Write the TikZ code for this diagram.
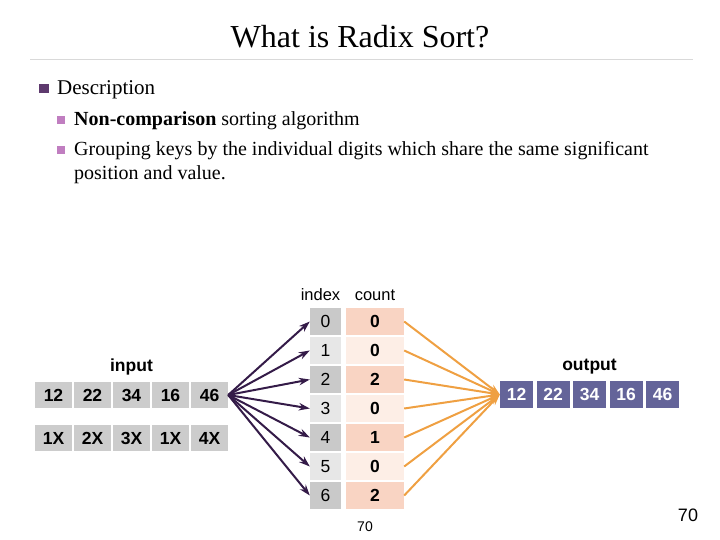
\documentclass[tikz,border=0pt]{standalone}
\usepackage{fontspec}
\setmainfont{Liberation Serif}
\setsansfont{Liberation Sans}
\usetikzlibrary{positioning,arrows.meta}
\definecolor{inkpurple}{HTML}{341B48}
\definecolor{bulletdark}{HTML}{5E3A6E}
\definecolor{bulletpink}{HTML}{C07EC0}
\definecolor{idxdark}{HTML}{C9C9C9}
\definecolor{idxlight}{HTML}{E7E7E7}
\definecolor{cntdark}{HTML}{F9D4C3}
\definecolor{cntlight}{HTML}{FDEEE6}
\definecolor{outblue}{HTML}{646499}
\definecolor{sunorange}{HTML}{EFA042}

\begin{document}
\begin{tikzpicture}[x=1pt,y=-1pt,
  cell/.style={minimum width=37pt,minimum height=26pt,inner sep=0pt,fill=idxdark!95,
    font=\sffamily\bfseries\fontsize{17.5}{17.5}\selectfont},
  idxcell/.style={minimum width=31pt,minimum height=27pt,inner sep=0pt,
    font=\sffamily\fontsize{17.5}{17.5}\selectfont},
  cntcell/.style={minimum width=58pt,minimum height=27pt,inner sep=0pt,
    font=\sffamily\bfseries\fontsize{17.5}{17.5}\selectfont},
  outcell/.style={minimum width=33pt,minimum height=27pt,inner sep=0pt,fill=outblue,text=white,
    font=\sffamily\bfseries\fontsize{17.5}{17.5}\selectfont},
  head/.style={font=\sffamily\bfseries\fontsize{17.5}{17.5}\selectfont},
  bodytext/.style={anchor=base west,inner sep=0pt,font=\fontsize{20}{20}\selectfont},
  inarrow/.style={-{Stealth[length=11pt,width=7.5pt]},line width=2pt,draw=inkpurple},
  outarrow/.style={-{Stealth[length=11pt,width=7.5pt]},line width=2pt,draw=sunorange}]
\useasboundingbox (0,0) rectangle (720,540);

\node[anchor=base,font=\fontsize{32}{32}\selectfont] (title) at (360,48) {What is Radix Sort?};
\draw[gray!30,line width=1pt] (30,60) -- (693,60);

\fill[bulletdark] (39,84) rectangle (49,93);
\node[anchor=base west,inner sep=0pt,font=\fontsize{21}{21}\selectfont] (desc) at (57,95) {Description};
\fill[bulletpink] (57,116) rectangle (65,124);
\node[bodytext] (pt1) at (74,126) {\textbf{Non-comparison} sorting algorithm};
\fill[bulletpink] (57,146) rectangle (65,154);
\node[bodytext] (pt2) at (74,155.5) {Grouping keys by the individual digits which share the same significant};
\node[bodytext] (pt2b) at (74,179.5) {position and value.};

\path
  (53.5,395) node[cell] (a1) {12}
++(39,0)     node[cell] (a2) {22}
++(39,0)     node[cell] (a3) {34}
++(39,0)     node[cell] (a4) {16}
++(39,0)     node[cell] (a5) {46}
;
\path
  (53.5,438) node[cell] (b1) {1X}
++(39,0)     node[cell] (b2) {2X}
++(39,0)     node[cell] (b3) {3X}
++(39,0)     node[cell] (b4) {1X}
++(39,0)     node[cell] (b5) {4X}
;
\node[head,above=3pt of a3] (input) {input};

\foreach \c/\ic/\cc [count=\i from 0] in {0/idxdark/cntdark,0/idxlight/cntlight,2/idxdark/cntdark,
    0/idxlight/cntlight,1/idxdark/cntdark,0/idxlight/cntlight,2/idxdark/cntdark}
{
  \node[idxcell,fill=\ic] (i\i) at (325.5,321.5+29*\i) {\i};
  \node[cntcell,fill=\cc] (c\i) at (375,321.5+29*\i) {\c};
}
\node[font=\sffamily\fontsize{16.5}{16.5}\selectfont,above=4pt of i0,xshift=-5pt] (index) {index};
\node[font=\sffamily\fontsize{16.5}{16.5}\selectfont,above=4pt of c0] (count) {count};
\node[font=\sffamily\fontsize{14}{14}\selectfont,below=9pt of c6,xshift=-10pt] (pg) {70};

\path
  (516.5,394.5) node[outcell] (o1) {12}
++(36.5,0)      node[outcell] (o2) {22}
++(36.5,0)      node[outcell] (o3) {34}
++(36.5,0)      node[outcell] (o4) {16}
++(36.5,0)      node[outcell] (o5) {46}
;
\node[head,above=3pt of o3] (output) {output};

\foreach \i in {0,...,6}
{
  \draw[inarrow] (a5.east) -- (i\i.west);
  \draw[outarrow] (c\i.east) -- (o1.west);
}

\node[font=\sffamily\fontsize{18}{18}\selectfont] (slide) at (688,515) {70};
\end{tikzpicture}
\end{document}
